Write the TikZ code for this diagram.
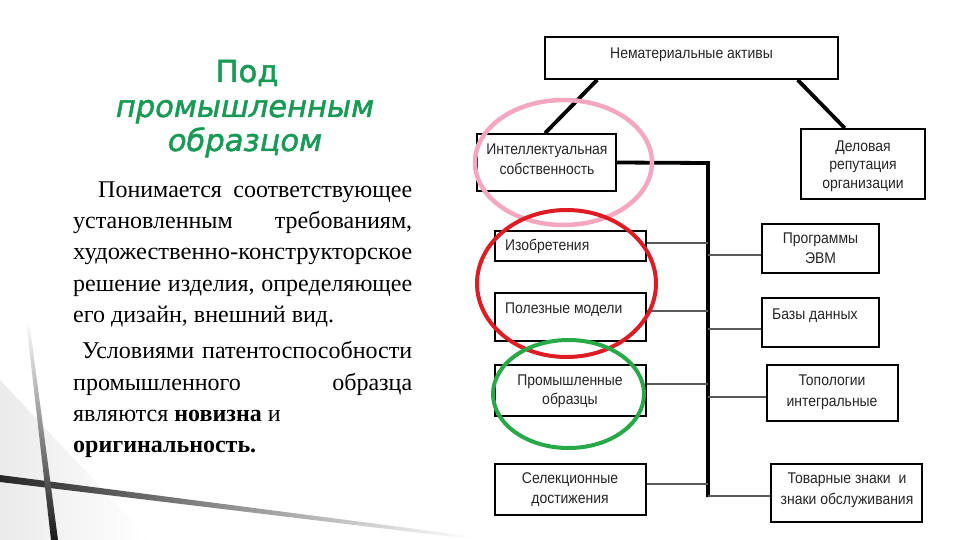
\documentclass[tikz,border=0pt]{standalone}
\usepackage{fontspec}
\setmainfont{Liberation Serif}
\newfontfamily\diagfont[FakeStretch=0.9]{Liberation Sans}
\newfontfamily\ttlfont[FakeBold=1.6]{DejaVu Sans}
\usetikzlibrary{calc,shapes.geometric}
\definecolor{ttlgreen}{RGB}{24,154,86}
\definecolor{pinkc}{RGB}{244,168,192}
\definecolor{redc}{RGB}{222,28,36}
\definecolor{greenc}{RGB}{40,168,70}
\begin{document}
\begin{tikzpicture}[x=1pt,y=-1pt,
  box/.style={draw=black, line width=1.8pt, inner sep=0pt, fill=white},
  lbl/.style={font=\diagfont\fontsize{15.5}{20}\selectfont, text=black!85, inner sep=0pt},
  body/.style={font=\fontsize{24}{31}\selectfont, inner sep=0pt, anchor=base west},
  ttl/.style={font=\ttlfont\fontsize{30.5}{35}\selectfont, text=ttlgreen, inner sep=0pt, anchor=base},
  trunk/.style={line width=3.8pt},
  twig/.style={line width=1.5pt, draw=black!65},
  ring/.style={ellipse, draw, line width=4pt, inner sep=0pt}]
\useasboundingbox (0,0) rectangle (960,540);
\fill[white] (0,0) rectangle (960,540);
% background decoration
\shade[left color=black!8, right color=white] (0,380) -- (150,540) -- (0,540) -- cycle;
\shade[left color=black!85, right color=white] (0,475) -- (470,536) -- (470,539) -- (0,482) -- cycle;
\shade[top color=white, bottom color=black!90] (26,320) -- (29,320) -- (58,540) -- (51,540) -- cycle;
% title
\node[ttl] (t1) at (247,82) {Под};
\node[ttl] (t2) at (245,117) {\itshape промышленным};
\node[ttl] (t3) at (245,151) {\itshape образцом};
% body text
\node[body] (b1) at (98,197) {\makebox[314pt][s]{Понимается соответствующее}};
\node[body] (b2) at (73,228) {\makebox[339pt][s]{установленным требованиям,}};
\node[body] (b3) at (73,259) {\resizebox{339pt}{\height}{художественно-конструкторское}};
\node[body] (b4) at (73,291) {\makebox[339pt][s]{решение изделия, определяющее}};
\node[body] (b5) at (73,322) {его дизайн, внешний вид.};
\node[body] (b6) at (82,358) {\makebox[330pt][s]{Условиями патентоспособности}};
\node[body] (b7) at (73,390) {\makebox[339pt][s]{промышленного образца}};
\node[body] (b8) at (73,421) {являются \textbf{новизна} и};
\node[body] (b9) at (73,452) {\textbf{оригинальность.}};
% trunk
\coordinate (tA) at (708,163);
\coordinate (tB) at (708,497);
% boxes
\node[box, minimum width=293, minimum height=42] (top) at (691.5,58) {};
\node[box, minimum width=139, minimum height=57] (ip) at (546.5,162.5) {};
\node[box, minimum width=124, minimum height=70] (rep) at (863,164) {};
\node[box, minimum width=151, minimum height=30] (izo) at (570.5,246) {};
\node[box, minimum width=151, minimum height=48] (pol) at (570.5,317) {};
\node[box, minimum width=151, minimum height=51] (prom) at (570.5,390.5) {};
\node[box, minimum width=151, minimum height=51] (sel) at (570.5,489.5) {};
\node[box, minimum width=117, minimum height=49] (prog) at (820.5,248.5) {};
\node[box, minimum width=117, minimum height=49] (baz) at (820.5,322.5) {};
\node[box, minimum width=131, minimum height=56] (topo) at (832.5,393) {};
\node[box, minimum width=151, minimum height=58] (tov) at (846.5,493) {};
% connectors
\draw[trunk] ($(top.south west)!0.18!(top.south east)$) -- ($(ip.north west)!0.49!(ip.north east)$);
\draw[trunk] ($(top.south west)!0.86!(top.south east)$) -- ($(rep.north west)!0.355!(rep.north east)$);
\draw[trunk] (ip.east) -- (tA) -- (tB);
\coordinate (izoC) at ([yshift=3pt]izo.east);
\coordinate (polC) at ([yshift=6pt]pol.east);
\coordinate (promC) at ([yshift=6.5pt]prom.east);
\coordinate (selC) at ([yshift=5.5pt]sel.east);
\coordinate (progC) at ([yshift=-6.5pt]prog.west);
\coordinate (bazC) at ([yshift=-6.5pt]baz.west);
\coordinate (topoC) at ([yshift=-4pt]topo.west);
\coordinate (tovC) at ([yshift=-3pt]tov.west);
\foreach \c in {izoC,polC,promC,selC,progC,bazC,topoC,tovC}
  \draw[twig] (\c) -- (\c -| tA);
% labels
\node[lbl, anchor=base] (l1) at (691.5,59) {Нематериальные активы};
\node[lbl, anchor=base] (l2) at (547,155) {Интеллектуальная};
\node[lbl, anchor=base] (l3) at (547,175) {собственность};
\node[lbl, anchor=base] (l4) at (863,152) {Деловая};
\node[lbl, anchor=base] (l5) at (863,170) {репутация};
\node[lbl, anchor=base] (l6) at (863,188) {организации};
\node[lbl, anchor=base west] (l7) at (505,250) {Изобретения};
\node[lbl, anchor=base west] (l8) at (505,313) {Полезные модели};
\node[lbl, anchor=base] (l9) at (570,385) {Промышленные};
\node[lbl, anchor=base] (l10) at (570,404) {образцы};
\node[lbl, anchor=base] (l11) at (570,483) {Селекционные};
\node[lbl, anchor=base] (l12) at (570,503) {достижения};
\node[lbl, anchor=base] (l13) at (820.5,243) {Программы};
\node[lbl, anchor=base] (l14) at (820.5,263) {ЭВМ};
\node[lbl, anchor=base west] (l15) at (772,319) {Базы данных};
\node[lbl, anchor=base] (l16) at (832,385) {Топологии};
\node[lbl, anchor=base] (l17) at (832,406) {интегральные};
\node[lbl, anchor=base] (l18) at (847,483) {Товарные знаки\ \ и};
\node[lbl, anchor=base] (l19) at (847,504) {знаки обслуживания};
% rings
\node[ring, draw=pinkc, line width=4.5pt, minimum width=177, minimum height=125] (pinkring) at (563.5,162.5) {};
\node[ring, draw=redc, minimum width=179, minimum height=147] (redring) at (566.5,283.5) {};
\node[ring, draw=greenc, minimum width=151, minimum height=108] (greenring) at (568.5,394) {};
\end{tikzpicture}
\end{document}
